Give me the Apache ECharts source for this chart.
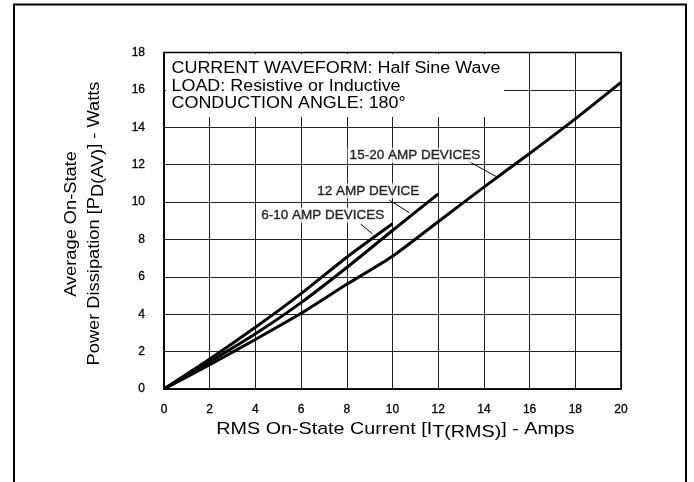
<!DOCTYPE html>
<html>
<head>
<meta charset="utf-8">
<script src="https://cdn.jsdelivr.net/npm/echarts@6/dist/echarts.min.js"></script>
<style>
  html, body { margin: 0; padding: 0; background: #fff; }
  #chart { width: 694px; height: 482px; }
</style>
</head>
<body>
<div id="chart"></div>
<script>
// RMS on-state current (A) sample points
const currentAmps = [0, 2, 4, 6, 8, 10, 12, 14, 16, 18, 20];

// Average on-state power dissipation (W) per device family
const pd6to10 = [0, 1.6, 3.3, 5.1, 7.05, 8.84];
const pd12 = [0, 1.45, 2.95, 4.62, 6.5, 8.48, 10.43];
const pd15to20 = [0, 1.3, 2.65, 4.05, 5.6, 7.1, 8.95, 10.8, 12.6, 14.45, 16.4];

// Axis ticks
const xTicks = [0, 2, 4, 6, 8, 10, 12, 14, 16, 18, 20];
const yTicks = [0, 2, 4, 6, 8, 10, 12, 14, 16, 18];

// Curve labels, placed in data units, with their leader lines
const curveLabels = ['15-20 AMP DEVICES', '12 AMP DEVICE', '6-10 AMP DEVICES'];
const labelAnchors = [[10.98, 12.5], [8.94, 10.6], [6.95, 9.3]];
const leaderLines = [
  [[13.3, 12.2], [14.56, 11.35]],
  [[9.86, 10.1], [10.74, 9.43]],
  [[8.61, 8.82], [9.13, 8.29]]
];

// Conditions listed in the upper-left of the plot
const noteLines = [
  'CURRENT WAVEFORM: Half Sine Wave',
  'LOAD: Resistive or Inductive',
  'CONDUCTION ANGLE: 180\u00b0'
];

const FONT = '"Liberation Sans", Arial, Helvetica, sans-serif';
const INK = '#000';

function pairs(xs, ys) {
  return ys.map((y, i) => [xs[i], y]);
}

const chart = echarts.init(document.getElementById('chart'), null, { renderer: 'canvas' });

const curveSeries = [pd6to10, pd12, pd15to20].map((ys, i) => ({
  type: 'line',
  name: curveLabels[2 - i],
  data: pairs(currentAmps, ys),
  showSymbol: false,
  symbol: 'none',
  smooth: 0.25,
  lineStyle: { color: INK, width: 3 },
  z: 5,
  animation: false
}));

const leaderSeries = leaderLines.map(seg => ({
  type: 'line',
  data: seg,
  showSymbol: false,
  symbol: 'none',
  lineStyle: { color: INK, width: 1 },
  z: 4,
  animation: false
}));

const labelSeries = {
  type: 'scatter',
  data: labelAnchors.map((p, i) => ({ value: p, name: curveLabels[i] })),
  symbolSize: 0,
  z: 6,
  animation: false,
  label: {
    show: true,
    position: 'inside',
    formatter: p => p.name,
    color: INK,
    fontFamily: FONT,
    fontSize: 13.5,
    textBorderColor: INK,
    textBorderWidth: 0.4,
    backgroundColor: '#fff',
    padding: [1, 2, 0, 2]
  }
};

const noteGraphics = [
  {
    type: 'rect',
    shape: { x: 166, y: 54, width: 338, height: 63 },
    style: { fill: '#fff' },
    z: 50
  }
].concat(noteLines.map((t, i) => ({
  type: 'text',
  x: 171.5,
  y: 68.5 + i * 17.7,
  scaleX: 1.12,
  z: 51,
  style: {
    text: t,
    fill: INK,
    font: '16px ' + FONT,
    textAlign: 'left',
    textVerticalAlign: 'middle'
  }
})));

const subRich = {
  n: { fontSize: 17, fontFamily: FONT, color: INK, lineHeight: 20, verticalAlign: 'top' },
  s: { fontSize: 17, fontFamily: FONT, color: INK, lineHeight: 20, verticalAlign: 'bottom', padding: [8, 0, 0, 0] }
};

const tickLabel = {
  color: INK,
  fontFamily: FONT,
  fontSize: 12,
  textBorderColor: INK,
  textBorderWidth: 0.3
};

const option = {
  backgroundColor: '#fff',
  animation: false,
  grid: {
    left: 164,
    top: 52.5,
    right: 73,
    bottom: 93,
    show: true,
    borderColor: INK,
    borderWidth: 1.5,
    z: 3
  },
  xAxis: {
    type: 'value',
    min: xTicks[0],
    max: xTicks[xTicks.length - 1],
    interval: xTicks[1] - xTicks[0],
    axisLine: { show: true, lineStyle: { color: INK, width: 1.5 } },
    axisTick: { show: false },
    axisLabel: Object.assign({ margin: 15 }, tickLabel),
    splitLine: { show: true, lineStyle: { color: '#222', width: 1 } }
  },
  yAxis: {
    type: 'value',
    min: yTicks[0],
    max: yTicks[yTicks.length - 1],
    interval: yTicks[1] - yTicks[0],
    axisLine: { show: true, lineStyle: { color: INK, width: 1.5 } },
    axisTick: { show: false },
    axisLabel: Object.assign({ margin: 19 }, tickLabel),
    splitLine: { show: true, lineStyle: { color: '#222', width: 1 } }
  },
  graphic: [
    // outer frame of the figure
    {
      type: 'rect',
      shape: { x: 14, y: 4.5, width: 672, height: 500 },
      style: { fill: 'none', stroke: '#000', lineWidth: 2 },
      z: 60
    },
    // x-axis title with subscript
    {
      type: 'text',
      x: 395.5,
      y: 431,
      scaleX: 1.16,
      z: 60,
      style: {
        text: '{n|RMS On-State Current [I}{s|T(RMS)}{n|] - Amps}',
        textAlign: 'center',
        textVerticalAlign: 'middle',
        fill: INK,
        rich: subRich
      }
    },
    // y-axis title, first line
    {
      type: 'text',
      x: 72,
      y: 224,
      rotation: Math.PI / 2,
      scaleX: 1.14,
      z: 60,
      style: {
        text: 'Average On-State',
        font: '16px ' + FONT,
        fill: INK,
        textAlign: 'center',
        textVerticalAlign: 'middle'
      }
    },
    // y-axis title, second line with subscript
    {
      type: 'text',
      x: 97,
      y: 223.5,
      rotation: Math.PI / 2,
      scaleX: 1.14,
      z: 60,
      style: {
        text: '{n|Power Dissipation [P}{s|D(AV)}{n|] - Watts}',
        textAlign: 'center',
        textVerticalAlign: 'middle',
        fill: INK,
        rich: {
          n: { fontSize: 16, fontFamily: FONT, color: INK, lineHeight: 20, verticalAlign: 'top' },
          s: { fontSize: 16, fontFamily: FONT, color: INK, lineHeight: 20, verticalAlign: 'bottom', padding: [8, 0, 0, 0] }
        }
      }
    }
  ].concat(noteGraphics),
  series: curveSeries.concat(leaderSeries, [labelSeries])
};

chart.setOption(option);
</script>
</body>
</html>
